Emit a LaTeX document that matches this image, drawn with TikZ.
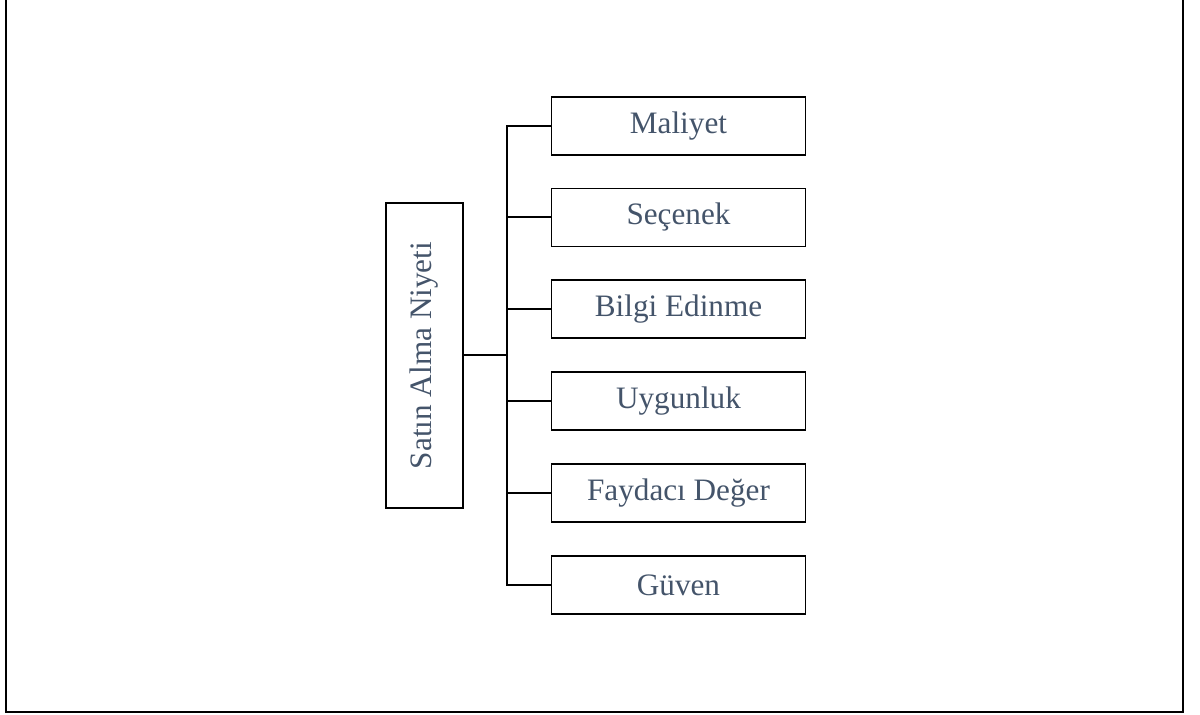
\documentclass[tikz,border=0pt]{standalone}
\usepackage{fontspec}
\setmainfont{Liberation Serif}
\definecolor{labelblue}{HTML}{44546A}
\begin{document}
\begin{tikzpicture}[x=0.5pt,y=-0.5pt,
  itembox/.style={draw=black, line width=0.75pt, minimum width=127pt, minimum height=29pt,
    inner sep=0pt, text=labelblue, font=\fontsize{15.6pt}{18pt}\selectfont},
  rootbox/.style={draw=black, line width=0.75pt, minimum width=38.5pt, minimum height=152.5pt,
    inner sep=0pt},
  link/.style={draw=black, line width=1pt}]
  \useasboundingbox (0,0) rectangle (1200,715);
  % outer frame (top edge lies beyond the page)
  \draw[line width=0.7pt] (6,-2) -- (6,712) -- (1183,712) -- (1183,-2);
  % root box with vertical caption
  \node[rootbox] (root) at (424.5,355.5) {};
  \node[rotate=90, text=labelblue, font=\fontsize{15.6pt}{18pt}\selectfont] (roottext) at (root.center) {Satın Alma Niyeti};
  % branch boxes
  \node[itembox] (b1) at (678.5,126) {Maliyet};
  \node[itembox] (b2) at (678.5,217.5) {Seçenek};
  \node[itembox] (b3) at (678.5,309) {Bilgi Edinme};
  \node[itembox] (b4) at (678.5,401) {Uygunluk};
  \node[itembox] (b5) at (678.5,493) {Faydacı Değer};
  \node[itembox] (b6) at (678.5,585) {Güven};
  % tree connectors
  \coordinate (trunk) at (507,355.5);
  \draw[link] (root.east) -- (trunk);
  \draw[link] (b1.west) -| (trunk) |- (b6.west);
  \foreach \b in {b2,b3,b4,b5} {
    \draw[link] (\b.west) -- (trunk |- \b.west);
  }
\end{tikzpicture}
\end{document}
